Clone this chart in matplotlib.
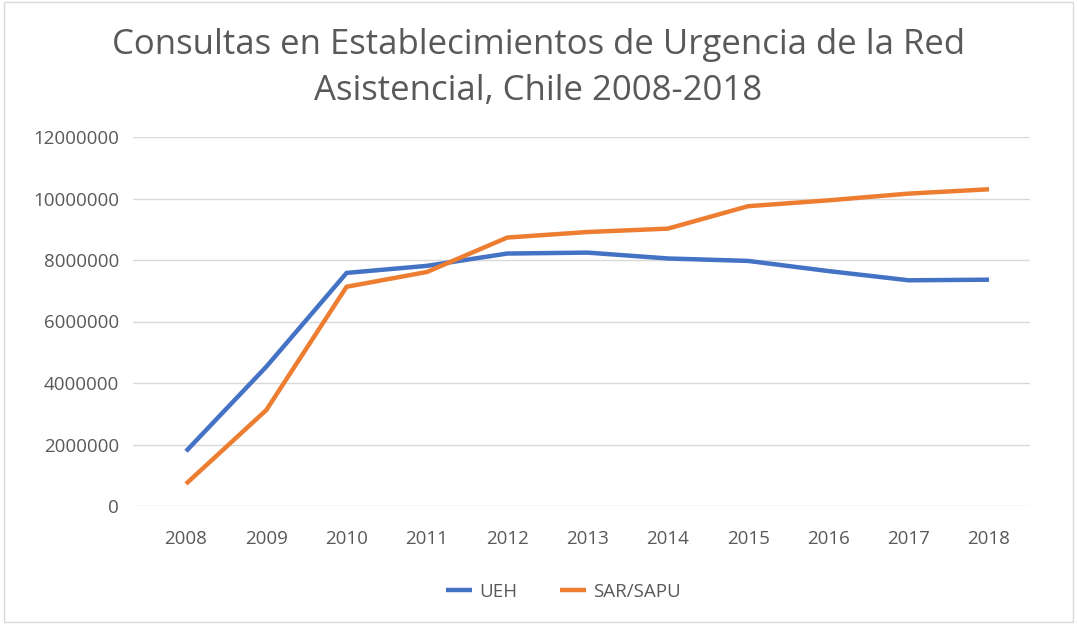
import matplotlib
matplotlib.use("Agg")
import matplotlib.pyplot as plt
from matplotlib.patches import Rectangle

years = ["2008", "2009", "2010", "2011", "2012", "2013", "2014", "2015", "2016", "2017", "2018"]
ueh = [1780000, 4530000, 7580000, 7810000, 8210000, 8240000, 8050000, 7970000, 7640000, 7340000, 7360000]
sar_sapu = [720000, 3120000, 7130000, 7610000, 8730000, 8910000, 9020000, 9750000, 9940000, 10160000, 10300000]
yticks = [0, 2000000, 4000000, 6000000, 8000000, 10000000, 12000000]

plt.rcParams['font.family'] = ['Open Sans', 'DejaVu Sans']
grey = '#595959'

fig = plt.figure(figsize=(10.77, 6.24), dpi=100)
fig.patches.append(Rectangle((0.004, 0.004), 0.992, 0.992, transform=fig.transFigure,
                             fill=False, edgecolor='#D9D9D9', linewidth=1))
ax = fig.add_axes([133/1077, 1-506/624, (1030-133)/1077, (506-137)/624])

x = list(range(len(years)))
ax.plot(x, ueh, color='#4472C4', linewidth=3.2, label='UEH', solid_capstyle='butt')
ax.plot(x, sar_sapu, color='#ED7D31', linewidth=3.2, label='SAR/SAPU', solid_capstyle='butt')

ax.set_xlim(-0.66, 10.51)
ax.set_ylim(0, 12000000)
ax.set_yticks(yticks)
ax.set_yticklabels([str(v) for v in yticks])
ax.set_xticks(x)
ax.set_xticklabels(years)
ax.grid(axis='y', color='#D9D9D9', linewidth=1)
ax.set_axisbelow(True)
for s in ax.spines.values():
    s.set_visible(False)
ax.tick_params(axis='both', length=0, colors=grey, labelsize=13.5)
ax.tick_params(axis='y', pad=10)
ax.tick_params(axis='x', pad=17)

fig.text(0.5, 1-45/624, 'Consultas en Establecimientos de Urgencia de la Red', ha='center', va='center',
         fontsize=25, color=grey)
fig.text(0.5, 1-91/624, 'Asistencial, Chile 2008-2018', ha='center', va='center',
         fontsize=25, color=grey)

leg = fig.legend(loc='center', bbox_to_anchor=(0.523, 1-592/624), ncol=2, frameon=False,
                 fontsize=13.5, handlelength=1.4, columnspacing=2.3, handletextpad=0.35)
for t in leg.get_texts():
    t.set_color(grey)

fig.savefig('out.png', dpi=100)
